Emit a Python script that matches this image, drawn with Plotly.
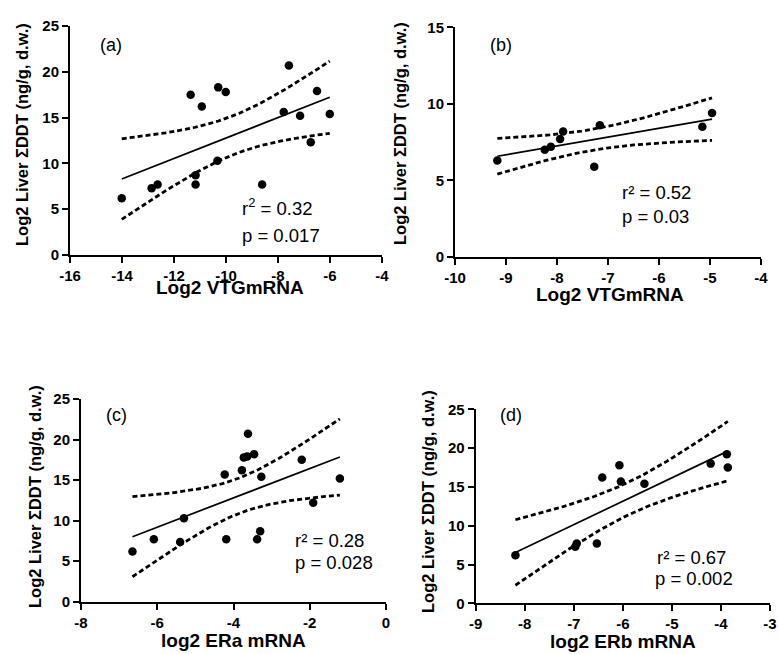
import numpy as np
import plotly.graph_objects as go

W, H = 778, 654

# ---------------- data ----------------
a_x = [-14.01, -12.86, -12.63, -11.36, -10.93, -11.17, -11.17, -10.30, -10.01,
       -10.33, -8.61, -7.58, -7.78, -7.15, -6.50, -6.74, -6.01]
a_y = [6.2, 7.3, 7.7, 17.5, 16.2, 8.7, 7.7, 18.3, 17.8,
       10.3, 7.7, 20.7, 15.6, 15.2, 17.9, 12.3, 15.4]

b_x = [-9.17, -8.24, -8.12, -7.94, -7.88, -7.27, -7.16, -5.15, -4.96]
b_y = [6.3, 7.0, 7.2, 7.7, 8.2, 5.9, 8.6, 8.5, 9.4]

c_x = [-6.65, -6.09, -5.40, -5.30, -4.23, -4.19, -3.78, -3.73, -3.64,
       -3.62, -3.46, -3.27, -3.30, -3.38, -2.21, -1.91, -1.21]
c_y = [6.2, 7.7, 7.35, 10.3, 15.7, 7.7, 16.2, 17.8, 17.9,
       20.7, 18.2, 15.4, 8.7, 7.7, 17.5, 12.2, 15.2]

d_x = [-8.19, -6.97, -6.94, -6.53, -6.42, -6.07, -6.04, -5.56, -4.21, -3.88, -3.86]
d_y = [6.2, 7.3, 7.7, 7.7, 16.2, 17.8, 15.7, 15.4, 18.0, 19.2, 17.5]

x_titles = ["Log2 VTGmRNA", "Log2 VTGmRNA", "log2 ERa mRNA", "log2 ERb mRNA"]
y_title = "Log2 Liver \u03a3DDT (ng/g, d.w.)"
panel_labels = ["(a)", "(b)", "(c)", "(d)"]
stats_r2 = ["r<sup>2</sup> = 0.32", "r\u00b2 = 0.52", "r\u00b2 = 0.28", "r\u00b2 = 0.67"]
stats_p = ["p = 0.017", "p = 0.03", "p = 0.028", "p = 0.002"]

x_ticks = [[-16, -14, -12, -10, -8, -6, -4],
           [-10, -9, -8, -7, -6, -5, -4],
           [-8, -6, -4, -2, 0],
           [-9, -8, -7, -6, -5, -4, -3]]
y_ticks = [[0, 5, 10, 15, 20, 25],
           [0, 5, 10, 15],
           [0, 5, 10, 15, 20, 25],
           [0, 5, 10, 15, 20, 25]]

# two-sided 95% t quantiles by degrees of freedom
T975 = {7: 2.365, 9: 2.262, 15: 2.131}

# ---------------- layout geometry (pixels) ----------------
# (left, right, top, bottom) of each plot area
boxes = [(70, 382, 26, 255), (455, 761, 27.3, 257),
         (81, 386, 399, 601.7), (475.7, 770, 409.3, 603.3)]

fig = go.Figure()

FONT = "Liberation Sans, Arial, sans-serif"


def px(x):
    return x / W


def py(y):
    return 1 - y / H


datasets = [(a_x, a_y), (b_x, b_y), (c_x, c_y), (d_x, d_y)]

for i, ((xs, ys), box) in enumerate(zip(datasets, boxes)):
    n = i + 1
    xa = "x" if n == 1 else f"x{n}"
    ya = "y" if n == 1 else f"y{n}"
    xs = np.array(xs)
    ys = np.array(ys)
    # linear regression with 95% confidence band
    slope, icpt = np.polyfit(xs, ys, 1)
    N = len(xs)
    resid = ys - (slope * xs + icpt)
    s = np.sqrt(np.sum(resid ** 2) / (N - 2))
    xbar = xs.mean()
    sxx = np.sum((xs - xbar) ** 2)
    xl = np.linspace(xs.min(), xs.max(), 100)
    yl = slope * xl + icpt
    half = T975[N - 2] * s * np.sqrt(1 / N + (xl - xbar) ** 2 / sxx)

    fig.add_trace(go.Scatter(x=xl, y=yl + half, mode="lines", xaxis=xa, yaxis=ya,
                             line=dict(color="black", width=2.8, dash="5px,3px"),
                             showlegend=False, hoverinfo="skip"))
    fig.add_trace(go.Scatter(x=xl, y=yl - half, mode="lines", xaxis=xa, yaxis=ya,
                             line=dict(color="black", width=2.8, dash="5px,3px"),
                             showlegend=False, hoverinfo="skip"))
    fig.add_trace(go.Scatter(x=xl, y=yl, mode="lines", xaxis=xa, yaxis=ya,
                             line=dict(color="black", width=1.7),
                             showlegend=False, hoverinfo="skip"))
    fig.add_trace(go.Scatter(x=xs, y=ys, mode="markers", xaxis=xa, yaxis=ya,
                             marker=dict(color="black", size=8.5),
                             showlegend=False))

    l, r, t, b = box
    axcommon = dict(showline=True, linecolor="black", linewidth=2, ticks="outside",
                    ticklen=6, tickwidth=2, tickcolor="black", showgrid=False,
                    zeroline=False, automargin=False, tickmode="array",
                    tickfont=dict(family=FONT, size=15, color="black", weight="bold"))
    xt, yt = x_ticks[i], y_ticks[i]
    fig.update_layout(**{
        ("xaxis" if n == 1 else f"xaxis{n}"): dict(
            domain=[px(l), px(r)], range=[xt[0], xt[-1]],
            tickvals=xt, ticktext=[f"<b>{v}</b>" for v in xt],
            anchor=ya, **axcommon),
        ("yaxis" if n == 1 else f"yaxis{n}"): dict(
            domain=[py(b), py(t)], range=[yt[0], yt[-1]],
            tickvals=yt, ticktext=[f"<b>{v}</b>" for v in yt],
            anchor=xa, **axcommon),
    })

# ---------------- text annotations (pixel positions) ----------------
ann = []


def add_text(text, x, y, size, bold=False, angle=0, xanchor="center"):
    ann.append(dict(text=text, x=px(x), y=py(y), xref="paper", yref="paper",
                    showarrow=False, xanchor=xanchor, yanchor="middle",
                    textangle=angle,
                    font=dict(family=FONT, size=size, color="black",
                              weight="bold" if bold else "normal")))


xt_pos = [(230, 287), (610, 295), (233, 640), (623, 641)]
yt_pos = [(22, 135), (400, 134), (35, 497), (428, 502)]
lab_pos = [(111, 45), (501, 45), (117, 415), (511, 415)]
r2_pos = [(240, 207), (620, 193), (293, 540), (655, 557)]
p_pos = [(240, 235), (620, 217), (293, 562), (653, 578)]

for i in range(4):
    add_text(x_titles[i], *xt_pos[i], 19, bold=True)
    add_text(y_title, *yt_pos[i], 16.5, bold=True, angle=-90)
    add_text(panel_labels[i], *lab_pos[i], 18)
    add_text(stats_r2[i], *r2_pos[i], 18.5, xanchor="left")
    add_text(stats_p[i], *p_pos[i], 18.5, xanchor="left")

fig.update_layout(width=W, height=H, margin=dict(l=0, r=0, t=0, b=0, autoexpand=False),
                  paper_bgcolor="white", plot_bgcolor="white",
                  annotations=ann, showlegend=False)

fig.write_html("out.html", config={"displayModeBar": False},
               post_script="document.body.style.margin='0px';"
                           "document.body.style.overflow='hidden';")
